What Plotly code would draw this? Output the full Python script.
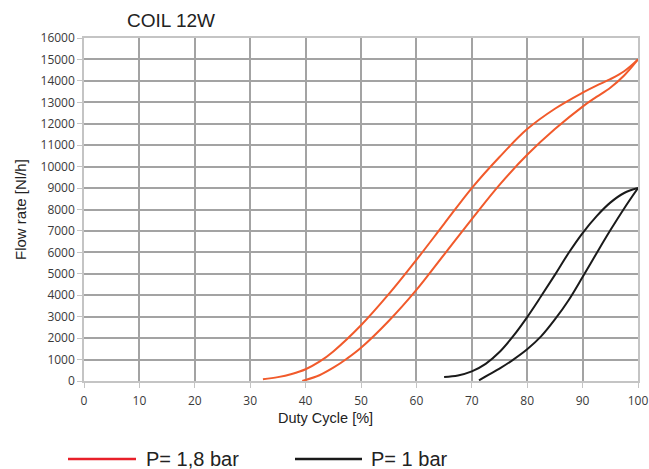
import plotly.graph_objects as go

# Data
red_a_x = [32.3, 35, 37.5, 40, 42.5, 45, 50, 55, 60, 65, 70, 75, 80, 85, 90, 92.5, 95, 97.5, 100]
red_a_y = [80, 180, 330, 550, 900, 1380, 2600, 4050, 5650, 7330, 9000, 10450, 11750, 12700, 13450, 13780, 14080, 14450, 15000]
red_b_x = [39.4, 42.5, 45, 47.5, 50, 55, 60, 65, 70, 75, 80, 85, 90, 92.5, 95, 97.5, 100]
red_b_y = [0, 270, 620, 1050, 1550, 2800, 4250, 5900, 7550, 9150, 10550, 11750, 12800, 13250, 13680, 14250, 15000]
blk_a_x = [65, 67.5, 70, 72.5, 75, 77.5, 80, 82.5, 85, 87.5, 90, 92.5, 95, 97.5, 100]
blk_a_y = [190, 260, 450, 800, 1350, 2100, 2980, 3950, 4950, 5980, 6900, 7680, 8320, 8770, 9000]
blk_b_x = [71.3, 73, 75, 77.5, 80, 82.5, 85, 87.5, 90, 92.5, 95, 97.5, 100]
blk_b_y = [30, 290, 580, 1000, 1480, 2080, 2870, 3780, 4850, 5950, 7030, 8050, 9000]

x_ticks = list(range(0, 101, 10))
y_ticks = list(range(0, 16001, 1000))
x_tick_labels = [str(v) for v in x_ticks]
y_tick_labels = [str(v) for v in y_ticks]

RED = "#f15a2b"
BLACK = "#1a1a1a"

W, H = 649, 469
PL, PR, PT, PB = 84, 638, 38, 381

fig = go.Figure()
for xs, ys, col in [(red_a_x, red_a_y, RED), (red_b_x, red_b_y, RED),
                    (blk_a_x, blk_a_y, BLACK), (blk_b_x, blk_b_y, BLACK)]:
    fig.add_trace(go.Scatter(x=xs, y=ys, mode="lines",
                             line=dict(color=col, width=2, shape="spline", smoothing=1),
                             showlegend=False, hoverinfo="skip", cliponaxis=False))

tickfont = dict(family="Open Sans, Liberation Sans, sans-serif", size=12, color="#3a3a3a")
textfont = "Liberation Sans, Arial"
fig.update_layout(
    width=W, height=H,
    margin=dict(l=PL, r=W - PR, t=PT, b=H - PB, autoexpand=False),
    paper_bgcolor="white", plot_bgcolor="white",
    xaxis=dict(range=[0, 100], tickvals=x_ticks, ticktext=x_tick_labels,
               showgrid=True, gridcolor="#a3a3a3", gridwidth=1.5, automargin=False,
               zeroline=False, showline=True, linecolor="#c4c4c4", linewidth=1.5, mirror=True,
               ticks="outside", ticklen=5, tickcolor="#c4c4c4", tickfont=tickfont,
               ticklabeloverflow="allow", ticklabelstandoff=3),
    yaxis=dict(range=[0, 16000], tickvals=y_ticks, ticktext=y_tick_labels,
               showgrid=True, gridcolor="#a3a3a3", gridwidth=1.5, automargin=False,
               zeroline=False, showline=True, linecolor="#c4c4c4", linewidth=1.5, mirror=True,
               ticks="outside", ticklen=5, tickcolor="#c4c4c4", tickfont=tickfont,
               ticklabeloverflow="allow"),
)

def px_x(p):
    return (p - PL) / (PR - PL)

def px_y(p):
    return (PB - p) / (PB - PT)

# Title
fig.add_annotation(text="COIL 12W", xref="paper", yref="paper", x=px_x(171), y=px_y(20),
                   showarrow=False, font=dict(family=textfont, size=19, color="#222"),
                   xanchor="center", yanchor="middle")
# Axis titles
fig.add_annotation(text="Duty Cycle [%]", xref="paper", yref="paper", x=px_x(325), y=px_y(418),
                   showarrow=False, font=dict(family=textfont, size=14.5, color="#222"),
                   xanchor="center", yanchor="middle")
fig.add_annotation(text="Flow rate [Nl/h]", xref="paper", yref="paper", x=px_x(20), y=px_y(210),
                   showarrow=False, textangle=-90, font=dict(family=textfont, size=15, color="#222"),
                   xanchor="center", yanchor="middle")

# Legend drawn manually
legend = [(68, 136, 144, "#e8202a", "P= 1,8 bar"), (295, 362, 369, BLACK, "P= 1 bar")]
for x0, x1, xt, col, name in legend:
    fig.add_shape(type="line", xref="paper", yref="paper", x0=px_x(x0), x1=px_x(x1),
                  y0=px_y(459), y1=px_y(459), line=dict(color=col, width=2.5))
    fig.add_annotation(text=name, xref="paper", yref="paper", x=px_x(xt), y=px_y(459),
                       showarrow=False, xanchor="left", yanchor="middle",
                       font=dict(family=textfont, size=20, color="#222"))

fig.write_html("out.html", config={"displayModeBar": False},
               post_script="document.body.style.margin='0';document.body.style.overflow='hidden';")
